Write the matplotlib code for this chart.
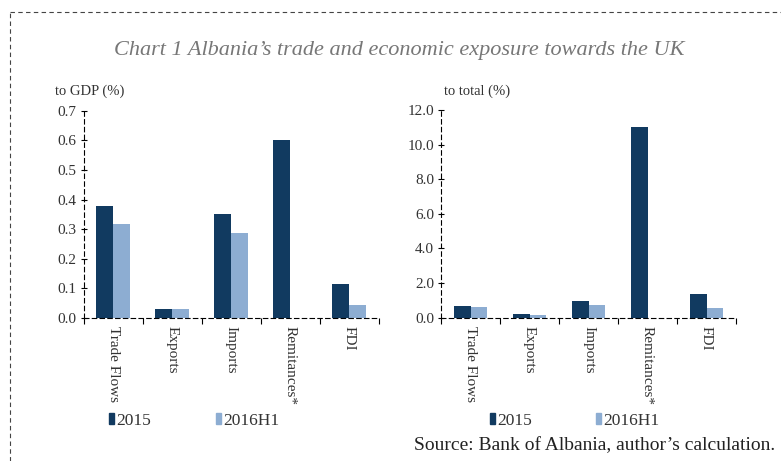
import numpy as np
import matplotlib
matplotlib.use("Agg")
import matplotlib.pyplot as plt
from matplotlib.lines import Line2D
from matplotlib.patches import Patch

plt.rcParams['font.family'] = ['Liberation Serif', 'DejaVu Serif']

categories = ['Trade Flows', 'Exports', 'Imports', 'Remitances*', 'FDI']
gdp_2015 = [0.379, 0.030, 0.351, 0.601, 0.116]
gdp_2016h1 = [0.317, 0.030, 0.287, 0.0, 0.044]
tot_2015 = [0.69, 0.19, 0.94, 11.0, 1.35]
tot_2016h1 = [0.60, 0.18, 0.75, 0.0, 0.54]
series_names = ['2015', '2016H1']

dark = '#113a60'
light = '#8dadd2'
txt = '#333333'

fig = plt.figure(figsize=(7.81, 4.61), dpi=100)

# dashed frame
fig.add_artist(Line2D([10/781, 1], [1-12/461, 1-12/461], transform=fig.transFigure,
                      color='#444444', lw=0.8, ls=(0, (4, 3))))
fig.add_artist(Line2D([10/781, 10/781], [0, 1-12/461], transform=fig.transFigure,
                      color='#444444', lw=0.8, ls=(0, (4, 3))))

fig.text(399/781, 1-50/461, "Chart 1 Albania\u2019s trade and economic exposure towards the UK",
         ha='center', va='center', fontsize=16, style='italic', color='#777777')


def panel(rect, v1, v2, ymax, step, fmt, unit_label, lab_x):
    ax = fig.add_axes(rect)
    x = np.arange(len(categories))
    w = 0.283
    ax.bar(x - w/2, v1, w, color=dark)
    ax.bar(x + w/2, v2, w, color=light)
    ax.set_xlim(-0.5, len(categories) - 0.5)
    ax.set_ylim(0, ymax)
    ticks = np.arange(0, ymax + step/2, step)
    ax.set_yticks(ticks)
    ax.set_yticklabels([fmt % v for v in ticks], fontsize=11, color=txt)
    ax.set_xticks(np.arange(-0.5, len(categories), 1))
    ax.set_xticklabels([])
    ax.set_xticks(x, minor=True)
    ax.set_xticklabels(categories, minor=True, rotation=270, fontsize=11,
                       color=txt, va='top', ha='center')
    ax.tick_params(axis='x', which='minor', length=0, pad=6)
    ax.tick_params(axis='x', which='major', length=4, direction='out', color='black')
    ax.tick_params(axis='y', length=4, direction='inout', color='black', pad=3)
    for s in ['top', 'right']:
        ax.spines[s].set_visible(False)
    for s in ['left', 'bottom']:
        ax.spines[s].set_linestyle((0, (4, 3)))
        ax.spines[s].set_linewidth(0.8)
    ax.set_facecolor('none')
    ax.text(lab_x, 1.06, unit_label, transform=ax.transAxes, fontsize=10.5,
            color=txt, ha='left', va='bottom')
    return ax


ax1 = panel([83.5/781, 1-318/461, 295/781, 207.3/461], gdp_2015, gdp_2016h1,
            0.7, 0.1, '%.1f', 'to GDP (%)', -0.095)
ax2 = panel([441/781, 1-317.7/461, 295/781, 207.7/461], tot_2015, tot_2016h1,
            12.0, 2.0, '%.1f', 'to total (%)', 0.01)

for ax, xs in [(ax1, (109, 216)), (ax2, (490, 596))]:
    for name, col, xp in zip(series_names, [dark, light], xs):
        fig.legend(handles=[Patch(color=col)], labels=[name],
                   loc='center left', bbox_to_anchor=(xp/781, 1-421/461),
                   frameon=False, fontsize=12.5, handlelength=0.3, handleheight=0.6,
                   handletextpad=0.1, borderpad=0, borderaxespad=0,
                   labelcolor=txt)

fig.text(775/781, 1-446/461, "Source: Bank of Albania, author\u2019s calculation.",
         ha='right', va='center', fontsize=14, color='#222222')

fig.savefig('out.png', dpi=100)
